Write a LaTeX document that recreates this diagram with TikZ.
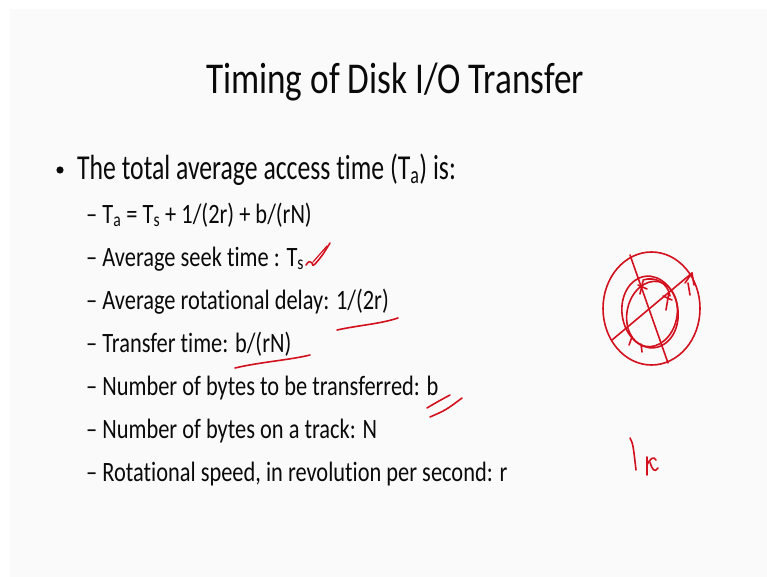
\documentclass[tikz,border=0pt]{standalone}
\usepackage{fontspec}
\newfontfamily\titlefont[FakeStretch=0.80,Ligatures=NoCommon]{Carlito}
\newfontfamily\onefont[FakeStretch=0.735,Ligatures=NoCommon]{Carlito}
\newfontfamily\twofont[FakeStretch=0.80,Ligatures=NoCommon]{Carlito}
\definecolor{slidebg}{HTML}{FAFAFA}
\definecolor{ink}{HTML}{D2101E}
\definecolor{txt}{HTML}{0A0A0A}
\begin{document}
\begin{tikzpicture}[x=1pt,y=-1pt,
  title/.style={anchor=base,inner sep=0pt,font=\titlefont\fontsize{44}{44}\selectfont,text=txt},
  lvlone/.style={anchor=base west,inner sep=0pt,font=\onefont\fontsize{35}{35}\selectfont,text=txt},
  lvltwo/.style={anchor=base west,inner sep=0pt,font=\twofont\fontsize{28}{28}\selectfont,text=txt},
  pen/.style={draw=ink,line width=1.6pt,line cap=round,line join=round}]
% page and slide area
\fill[white] (0,0) rectangle (767,577);
\useasboundingbox (0,0) rectangle (767,577);
\fill[slidebg] (10,9) rectangle (767,577);

% title
\node[title] (ttl) at (395,94) {Timing of Disk I/O Transfer};

% first-level bullet
\fill[txt] (60,170) circle (3.6) coordinate (dot);
\node[lvlone] (b1) at (77,180) {The total average access time (T\textsubscript{a}) is:};

% second-level items
\node[lvltwo] (s1) at (86,223) {– T\textsubscript{a} = T\textsubscript{s} + 1/(2r) + b/(rN)};
\node[lvltwo] (s2) at (86,266) {– Average seek time : T\textsubscript{s}};
\node[lvltwo] (s3) at (86,309) {– Average rotational delay: 1/(2r)};
\node[lvltwo] (s4) at (86,352) {– Transfer time: b/(rN)};
\node[lvltwo] (s5) at (86,395.5) {– Number of bytes to be transferred: b};
\node[lvltwo] (s6) at (86,438.5) {– Number of bytes on a track: N};
\node[lvltwo] (s7) at (86,481.5) {– Rotational speed, in revolution per second: r};

% handwritten marks
% tick next to T_s
\draw[pen] (306,265) .. controls (309,261) .. (312,263) .. controls (313,266) .. (315,264) .. controls (322,256) .. (330,243);
\draw[pen,line width=1.2pt] (313,262) -- (327,246);
% underline of 1/(2r)
\draw[pen] (337,330) .. controls (360,325) and (380,324) .. (398,318);
% underline of b/(rN)
\draw[pen] (235,368) .. controls (260,362) and (290,360) .. (310,355);
% double stroke under b
\draw[pen] (427,408) .. controls (437,402) .. (450,395);
\draw[pen] (430,417) .. controls (446,410) .. (462,398);

% disk sketch: platter outline, track loops, radii
\draw[pen] (651.5,308.5) ellipse [x radius=48.5,y radius=56.5];
\draw[pen,rotate around={8:(650,312)}] (650,312) ellipse [x radius=28,y radius=36];
\draw[pen,rotate around={-12:(652,314)}] (652,314) ellipse [x radius=25,y radius=33];
\draw[pen] (643,280) .. controls (655,276) and (668,283) .. (670,296);
\draw[pen] (630,255) -- (668,363);
\draw[pen] (612,340) -- (692,273);
\draw[pen] (685,283) -- (692,273) -- (694,285);
\draw[pen] (688,283) -- (690,295);
\draw[pen] (638,285) -- (647,289);
\draw[pen] (643,281) -- (640,294);
\draw[pen] (663,296) -- (672,300);
\draw[pen] (669,292) -- (666,310);
\draw[pen] (629,345) -- (632,337);
\draw[pen] (641,344) -- (642,352);

% handwritten 1/r
\draw[pen] (630,438) .. controls (633,444) .. (636,470);
\draw[pen] (647,457) -- (647,475);
\draw[pen] (647,465) .. controls (650,458) and (654,456) .. (656,460);
\draw[pen] (650,462) .. controls (652,470) and (655,473) .. (658,468);
\end{tikzpicture}
\end{document}
